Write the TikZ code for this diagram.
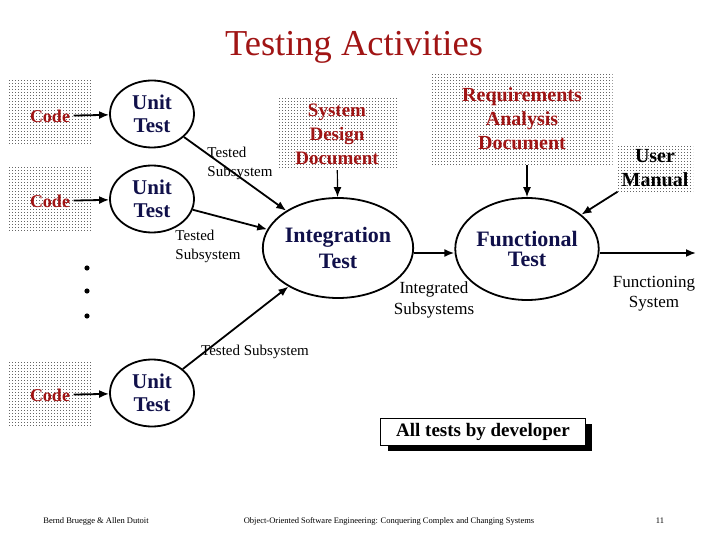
\documentclass[tikz,border=0pt]{standalone}
\usepackage{fontspec}
\setmainfont{Liberation Serif}
\definecolor{docred}{HTML}{A01414}
\definecolor{navy}{HTML}{10104A}
\usetikzlibrary{positioning, shapes.geometric, arrows.meta, patterns}
\pgfdeclarepatternformonly{stipple}{\pgfqpoint{-1pt}{-1pt}}{\pgfqpoint{1pt}{1pt}}{\pgfqpoint{3pt}{3pt}}{%
  \pgfpathrectangle{\pgfqpoint{-0.5pt}{-0.5pt}}{\pgfqpoint{1pt}{1pt}}\pgfusepath{fill}}

\begin{document}
\begin{tikzpicture}[x=1pt, y=-1pt,
  every node/.style={align=center},
  flow/.style={draw, line width=1.8pt, -{Latex[length=10pt,width=8pt]}},
  testnode/.style={draw, ellipse, line width=1.8pt, inner sep=0pt, text=navy, font=\bfseries\fontsize{21}{23}\selectfont},
  docbox/.style={pattern=stipple, pattern color=black!60, inner sep=0pt},
  doctext/.style={text=docred, font=\bfseries\fontsize{19}{24}\selectfont},
  lbl/.style={font=\fontsize{15}{19}\selectfont, align=left}]
  \useasboundingbox (0,0) rectangle (720,540);

  % title
  \node[text=docred, font=\fontsize{36.5}{40}\selectfont] (title) at (354,47) {Testing Activities};

  % code and unit test rows
  \foreach \i/\y in {1/114, 2/199, 3/393} {
    \fill[pattern=stipple, pattern color=black!60] (9,\y-33) rectangle (92,\y+32);
    \node[text=docred, font=\bfseries\fontsize{18}{20}\selectfont] (code\i) at (50,\y+2) {Code};
    \node[testnode, minimum width=84pt, minimum height=67pt] (unit\i) at (152,\y) {Unit\\Test};
    \draw[flow] (code\i) -- (unit\i);
  }
  \foreach \y in {268, 291, 316}
    \fill (87,\y) circle (2.6pt);

  % documents
  \node[docbox, minimum width=120pt, minimum height=72pt] (sdd) at (337,134) {};
  \node[doctext] at (sdd) {System\\Design\\Document};
  \node[docbox, minimum width=181pt, minimum height=92pt] (rad) at (522,119) {};
  \node[doctext, font=\bfseries\fontsize{20}{24}\selectfont] at (rad) {Requirements\\Analysis\\Document};
  \node[docbox, minimum width=76pt, minimum height=47pt] (manual) at (655,168) {};
  \node[doctext, text=black, font=\bfseries\fontsize{20}{24}\selectfont] at (manual) {User\\Manual};

  % tests
  \node[testnode, minimum width=130pt, minimum height=100pt, font=\bfseries\fontsize{22}{26}\selectfont] (integ) at (338,248) {Integration\\Test};
  \node[testnode, minimum width=125pt, minimum height=102pt, font=\bfseries\fontsize{22}{20}\selectfont] (func) at (527,249) {Functional\\Test};
  \coordinate (out) at (696,253);

  \draw[flow] (unit1) -- (integ);
  \draw[flow] (unit2) -- (integ);
  \draw[flow] (unit3) -- (integ);
  \draw[flow, line width=1.2pt] (sdd) -- (integ);
  \draw[flow] (integ.east |- 0,253) -- (func.west |- 0,253);
  \draw[flow, line width=1.2pt] (rad.south -| func) -- (func);
  \draw[flow] (manual) -- (func);
  \draw[flow] (func.east |- 0,253) -- (out);

  % labels
  \node[lbl] (lblA) at (240,163) {Tested\\Subsystem};
  \node[lbl] (lblB) at (208,246) {Tested\\Subsystem};
  \node[lbl] (lblC) at (255,352) {Tested Subsystem};
  \node[font=\fontsize{17}{21}\selectfont] (lblD) at (434,300) {Integrated\\Subsystems};
  \node[font=\fontsize{17}{20}\selectfont] (lblE) at (654,294) {Functioning\\System};

  % developer box
  \fill (388,424) rectangle (592,451);
  \node[draw, fill=white, line width=1.2pt, minimum width=205pt, minimum height=27pt, inner sep=0pt,
    font=\bfseries\fontsize{19}{22}\selectfont] (dev) at (483,432) {All tests by developer};

  % footer
  \node[font=\fontsize{8.5}{10}\selectfont] (ftA) at (96,521) {Bernd Bruegge \& Allen Dutoit};
  \node[font=\fontsize{8.5}{10}\selectfont] (ftB) at (389,521) {Object-Oriented Software Engineering: Conquering Complex and Changing Systems};
  \node[font=\fontsize{8.5}{10}\selectfont] (ftC) at (660,521) {11};
\end{tikzpicture}
\end{document}
